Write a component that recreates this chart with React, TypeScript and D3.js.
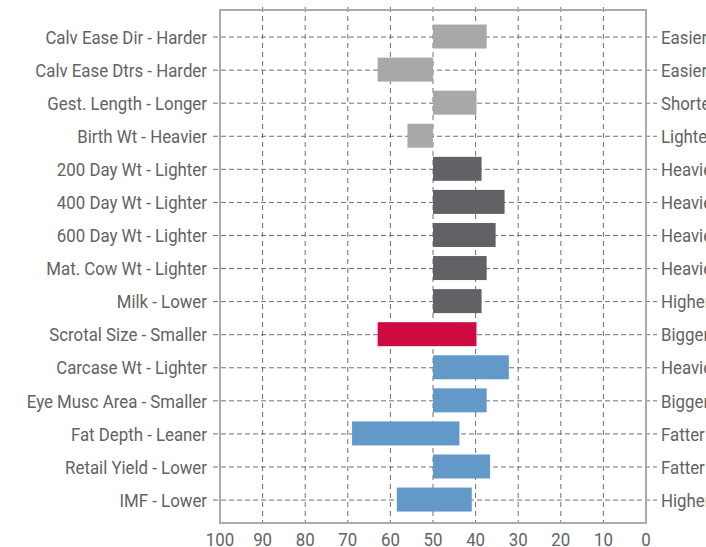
import React from "react";
import * as d3 from "d3";

const categories = [
  "Calv Ease Dir - Harder",
  "Calv Ease Dtrs - Harder",
  "Gest. Length - Longer",
  "Birth Wt - Heavier",
  "200 Day Wt - Lighter",
  "400 Day Wt - Lighter",
  "600 Day Wt - Lighter",
  "Mat. Cow Wt - Lighter",
  "Milk - Lower",
  "Scrotal Size - Smaller",
  "Carcase Wt - Lighter",
  "Eye Musc Area - Smaller",
  "Fat Depth - Leaner",
  "Retail Yield - Lower",
  "IMF - Lower",
];
const rightLabels = [
  "Easier", "Easier", "Shorter", "Lighter", "Heavier", "Heavier", "Heavier", "Heavier",
  "Higher", "Bigger", "Heavier", "Bigger", "Fatter", "Fatter", "Higher",
];
const barStart = [50, 63, 50, 56, 50, 50, 50, 50, 50, 63, 50, 50, 69, 50, 58.5];
const barEnd = [37.4, 50, 39.8, 50, 38.6, 33.2, 35.3, 37.4, 38.6, 39.8, 32.2, 37.4, 43.8, 36.6, 40.9];
const groups = ["light", "light", "light", "light", "dark", "dark", "dark", "dark", "dark", "red", "blue", "blue", "blue", "blue", "blue"];
const xTicks = [100, 90, 80, 70, 60, 50, 40, 30, 20, 10, 0];

const colorOf: Record<string, string> = {
  light: "#a8a8a8",
  dark: "#616266",
  red: "#cd0b40",
  blue: "#6399c9",
};

export default function App() {
  const W = 706, H = 547;
  const left = 220, right = 646, top = 10, bottom = 523;
  const x = d3.scaleLinear().domain([100, 0]).range([left, right]);
  const y = d3.scaleBand<string>().domain(categories).range([20.5, 516.6]).paddingInner(0.27).paddingOuter(0.135);
  const yc = (c: string) => (y(c) as number) + y.bandwidth() / 2;
  const font = "Roboto, 'Liberation Sans', sans-serif";
  const textColor = "#636363";
  const gridColor = "#707070";
  const barH = 24;
  const sx = 0.91;

  return (
    <svg width={W} height={H} style={{ position: "absolute", left: 0, top: 0 }} fontFamily={font}>
      <rect x={0} y={0} width={W} height={H} fill="#fff" />
      {/* vertical grid */}
      {xTicks.filter((t) => t !== 100 && t !== 0).map((t) => (
        <line key={"v" + t} x1={x(t)} x2={x(t)} y1={top - 3} y2={bottom} stroke={gridColor} strokeWidth={1} strokeDasharray="5,4" />
      ))}
      {/* horizontal grid + ticks */}
      {categories.map((c) => (
        <line key={"h" + c} x1={left - 7} x2={right + 11} y1={yc(c)} y2={yc(c)} stroke={gridColor} strokeWidth={1} strokeDasharray="5,3" />
      ))}
      {/* bars */}
      {categories.map((c, i) => {
        const x0 = x(barStart[i]);
        const x1 = x(barEnd[i]);
        return (
          <rect key={"b" + c} x={Math.min(x0, x1)} y={yc(c) - barH / 2 - 0.5} width={Math.abs(x1 - x0)} height={barH} fill={colorOf[groups[i]]} />
        );
      })}
      {/* frame */}
      <rect x={left} y={top} width={right - left} height={bottom - top} fill="none" stroke="#ababab" strokeWidth={2} />
      {/* left labels */}
      {categories.map((c) => (
        <text key={"l" + c} transform={`translate(207,${yc(c)}) scale(${sx},1)`} dy="0.36em" textAnchor="end" fontSize={18.5} fill={textColor}>
          {c}
        </text>
      ))}
      {/* right labels */}
      {categories.map((c, i) => (
        <text key={"r" + c} transform={`translate(661,${yc(c)}) scale(${sx},1)`} dy="0.36em" textAnchor="start" fontSize={18.5} fill={textColor}>
          {rightLabels[i]}
        </text>
      ))}
      {/* x tick labels */}
      {xTicks.map((t) => (
        <text key={"t" + t} transform={`translate(${x(t)},546) scale(${sx},1)`} textAnchor="middle" fontSize={18.5} fill={textColor}>
          {t}
        </text>
      ))}
    </svg>
  );
}
